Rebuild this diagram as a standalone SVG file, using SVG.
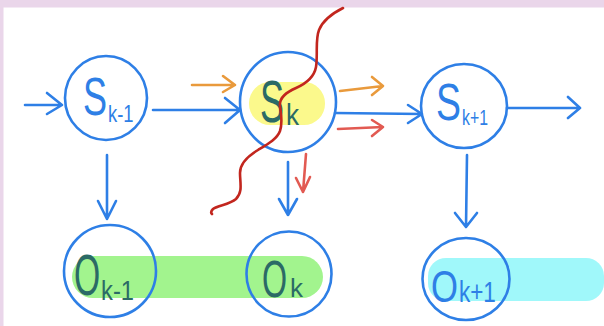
<svg xmlns="http://www.w3.org/2000/svg" width="604" height="326" viewBox="0 0 604 326">
<style>
.bg{fill:#ead6ea}
.node{fill:none;stroke:#2e7fe6;stroke-width:2.6}
.ln{fill:none;stroke-width:2.6;stroke-linecap:round;stroke-linejoin:round}
.blue{stroke:#2e7fe6}
.orange{stroke:#e99a3c}
.red{stroke:#e25a52}
.wave{fill:none;stroke:#c2261e;stroke-width:2.6;stroke-linecap:round;stroke-linejoin:round}
.t{font-family:"Liberation Sans","DejaVu Sans",sans-serif}
.tb{fill:#2e7fe6}
.tt{fill:#2b6a66}
</style>
<rect x="0" y="0" width="604" height="326" fill="#ffffff"/>
<rect class="bg" x="0" y="0" width="604" height="7.5"/>
<rect class="bg" x="0" y="0" width="3.5" height="326"/>

<g id="highlights">
<rect x="249" y="82" width="76" height="43" rx="21" fill="#fbf98c"/>
<rect x="72" y="256" width="251" height="42" rx="21" fill="#a2f48e"/>
<rect x="428" y="258" width="176" height="43" rx="18" fill="#a0f8fa"/>
</g>

<g id="S_k-1">
<ellipse class="node" cx="106" cy="98" rx="41" ry="42"/>
<text class="t tb" transform="translate(83,115) scale(0.667,1)" font-size="54">S</text>
<text class="t tb" transform="translate(108,122) scale(0.8,1)" font-size="23">k-1</text>
</g>
<g id="S_k">
<ellipse class="node" cx="288" cy="102" rx="48" ry="50"/>
<text class="t tt" transform="translate(260,122) scale(0.6,1)" font-size="60">S</text>
<text class="t tt" transform="translate(286,125) scale(0.87,1)" font-size="30">k</text>
</g>
<g id="S_k+1">
<ellipse class="node" cx="464" cy="106" rx="43" ry="42"/>
<text class="t tb" transform="translate(436,120) scale(0.72,1)" font-size="52">S</text>
<text class="t tb" transform="translate(462,125) scale(0.72,1)" font-size="22">k+1</text>
</g>
<g id="O_k-1">
<ellipse class="node" cx="110" cy="271" rx="46" ry="46"/>
<text class="t tt" transform="translate(74,295) scale(0.58,1)" font-size="58">O</text>
<text class="t tt" transform="translate(101,300) scale(0.88,1)" font-size="27">k-1</text>
</g>
<g id="O_k">
<ellipse class="node" cx="289" cy="274" rx="42.5" ry="42.5"/>
<text class="t tt" transform="translate(262,297) scale(0.62,1)" font-size="52">O</text>
<text class="t tt" transform="translate(290,297)" font-size="26">k</text>
</g>
<g id="O_k+1">
<ellipse class="node" cx="466" cy="279" rx="43.5" ry="41"/>
<text class="t tb" transform="translate(431,302) scale(0.77,1)" font-size="45">O</text>
<text class="t tb" transform="translate(459,302) scale(0.75,1)" font-size="30">k+1</text>
</g>

<g id="connectors">
<path class="ln blue" d="M25,105 L62,105 M47,93 L62,105 L47,114"/>
<path class="ln blue" d="M153,110 L240,110 M225,98 L240,110 L225,123"/>
<path class="ln orange" d="M192,85 L235,85 M223,76 L235,85 L223,92"/>
<path class="ln blue" d="M335,113 L422,114 M408,105 L422,114 L408,123"/>
<path class="ln orange" d="M340,91 L383,86 M372,77 L383,86 L372,95"/>
<path class="ln red" d="M338,129 L383,127 M372,120 L383,127 L372,136"/>
<path class="ln blue" d="M507,108 L580,108 M568,97 L580,108 L568,118"/>
<path class="ln blue" d="M107,155 L107,219 M98,201 L107,219 L116,201"/>
<path class="ln blue" d="M288,162 L288,215 M279,199 L288,215 L297,199"/>
<path class="ln red" d="M306,154 L303,192 M296,178 L303,192 L310,177"/>
<path class="ln blue" d="M467,155 L466,227 M455,213 L466,227 L477,213"/>
</g>

<g id="cut">
<path class="wave" d="M343,8 C333,13 323,20 319,30 C315,40 318,55 316,67 C314,78 305,84 296,88 C287,92 279,97 280,106 C281,115 283,122 280,131 C277,139 268,144 258,150 C248,156 240,163 240,173 C240,183 243,192 236,199 C229,205 218,205 213,209 C211,211 211,213 212,214"/>
</g>
</svg>
